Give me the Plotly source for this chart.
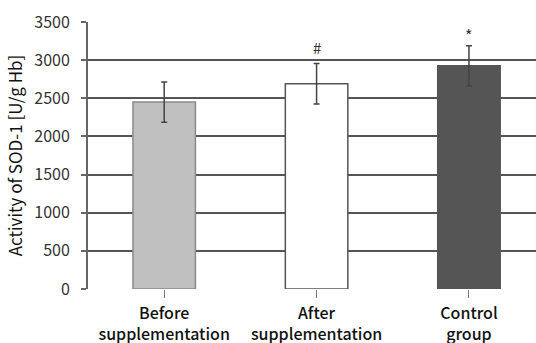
import plotly.graph_objects as go

categories = ["Before<br>supplementation", "After<br>supplementation", "Control<br>group"]
values = [2450, 2690, 2925]
errors = [265, 265, 265]
markers = ["", "#", "*"]
bar_colors = ["#c0c0c0", "#ffffff", "#555555"]
bar_lines = ["#8a8a8a", "#555555", "#555555"]
y_ticks = [0, 500, 1000, 1500, 2000, 2500, 3000, 3500]

FONT = "Noto Sans CJK KR, Noto Sans, sans-serif"

fig = go.Figure()
fig.add_trace(go.Bar(
    x=list(range(len(categories))),
    y=values,
    width=0.41,
    marker=dict(color=bar_colors, line=dict(color=bar_lines, width=1.5)),
    error_y=dict(type="data", array=errors, visible=True, color="#444444", thickness=1.5, width=3),
    showlegend=False,
    hoverinfo="skip",
))

for i, (v, e, m) in enumerate(zip(values, errors, markers)):
    if m:
        fig.add_annotation(x=i, y=v + e, text=m, showarrow=False, yanchor="bottom",
                           yshift=4 if m == "#" else -3,
                           font=dict(family=FONT, size=15 if m == "#" else 16, color="#333333"))

fig.update_layout(
    width=536, height=343,
    margin=dict(l=88, r=0, t=22, b=54),
    paper_bgcolor="white", plot_bgcolor="white",
    font=dict(family=FONT, color="#222222"),
)
fig.update_xaxes(
    range=[-0.5, 2.44], automargin=False,
    tickmode="array", tickvals=list(range(len(categories))), ticktext=categories,
    tickfont=dict(size=16, color="#111111", weight=500),
    showgrid=False, zeroline=False, showline=False,
    tickson="boundaries", ticks="outside", ticklen=8, tickcolor="#777777", tickwidth=1,
    ticklabelstandoff=2,
)
fig.update_yaxes(
    range=[0, 3500], tickvals=y_ticks, automargin=False,
    tickfont=dict(size=16, color="#333333"),
    showgrid=True, gridcolor="#555555", gridwidth=1.5,
    showline=True, linecolor="#666666", linewidth=2,
    ticks="outside", ticklen=5, tickcolor="#666666", tickwidth=1.5,
    ticklabelstandoff=8,
    zeroline=False,
    title=dict(text="Activity of SOD-1 [U/g Hb]", font=dict(size=17, color="#111111"), standoff=7),
)
fig.write_html("out.html", config={"displayModeBar": False},
               post_script="document.body.style.margin='0';document.body.style.padding='0';")
